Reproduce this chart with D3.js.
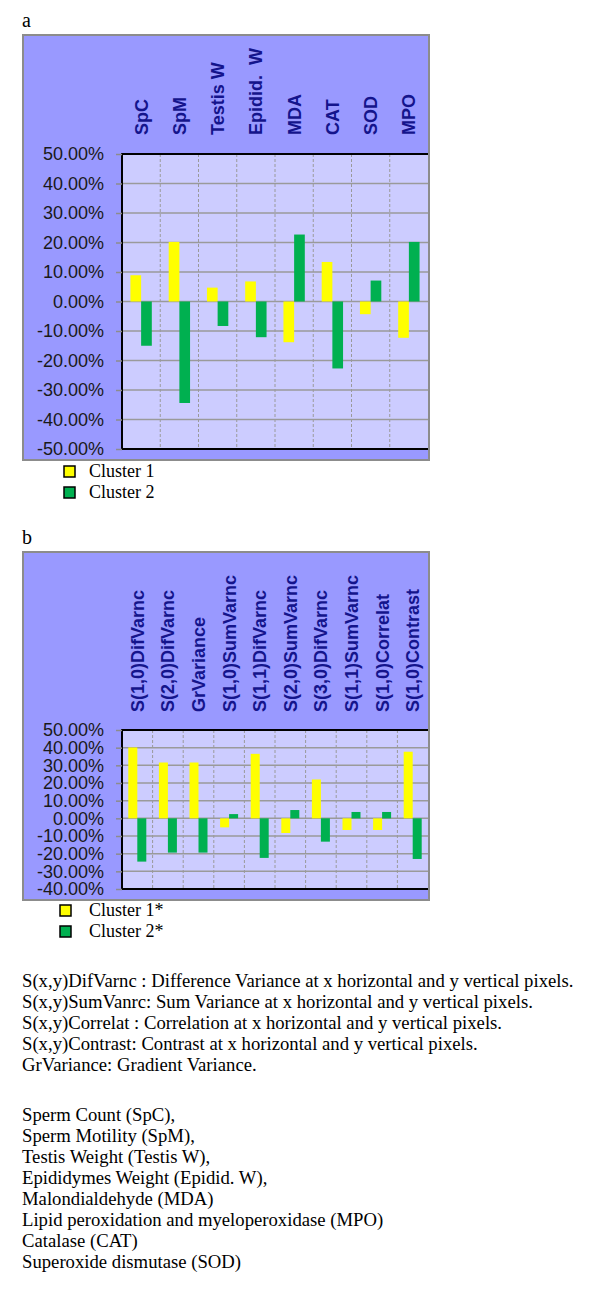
<!DOCTYPE html>
<html>
<head>
<meta charset="utf-8">
<script src="https://cdn.jsdelivr.net/npm/d3@7"></script>
<style>
  body { margin: 0; background: #fff; }
  svg { display: block; }
</style>
</head>
<body>
<svg id="fig" width="600" height="1294"></svg>
<script>
// panel a
const catsA = ['SpC', 'SpM', 'Testis W', 'Epidid.  W', 'MDA', 'CAT', 'SOD', 'MPO'];
const cluster1A = [0.089, 0.202, 0.047, 0.068, -0.138, 0.134, -0.043, -0.123];
const cluster2A = [-0.150, -0.344, -0.083, -0.121, 0.227, -0.227, 0.071, 0.202];
const ticksA = [0.5, 0.4, 0.3, 0.2, 0.1, 0, -0.1, -0.2, -0.3, -0.4, -0.5];
const legendA = ['Cluster 1', 'Cluster 2'];

// panel b
const catsB = ['S(1,0)DifVarnc', 'S(2,0)DifVarnc', 'GrVariance', 'S(1,0)SumVarnc', 'S(1,1)DifVarnc',
  'S(2,0)SumVarnc', 'S(3,0)DifVarnc', 'S(1,1)SumVarnc', 'S(1,0)Correlat', 'S(1,0)Contrast'];
const cluster1B = [0.401, 0.316, 0.316, -0.051, 0.365, -0.083, 0.220, -0.066, -0.066, 0.377];
const cluster2B = [-0.245, -0.194, -0.194, 0.024, -0.224, 0.047, -0.132, 0.036, 0.036, -0.230];
const ticksB = [0.5, 0.4, 0.3, 0.2, 0.1, 0, -0.1, -0.2, -0.3, -0.4];
const legendB = ['Cluster 1*', 'Cluster 2*'];

const notes1 = [
  'S(x,y)DifVarnc : Difference Variance at x horizontal and y vertical pixels.',
  'S(x,y)SumVanrc: Sum Variance at x horizontal and y vertical pixels.',
  'S(x,y)Correlat : Correlation at x horizontal and y vertical pixels.',
  'S(x,y)Contrast: Contrast at x horizontal and y vertical pixels.',
  'GrVariance: Gradient Variance.'
];
const notes2 = [
  'Sperm Count (SpC),',
  'Sperm Motility (SpM),',
  'Testis Weight (Testis W),',
  'Epididymes Weight (Epidid. W),',
  'Malondialdehyde (MDA)',
  'Lipid peroxidation and myeloperoxidase (MPO)',
  'Catalase (CAT)',
  'Superoxide dismutase (SOD)'
];

const colors = ['#ffff00', '#00b050'];
const svg = d3.select('#fig');
// plain hyphen for negatives, like the original
const pct = d3.formatLocale({ decimal: '.', thousands: ',', grouping: [3], currency: ['', ''], minus: '-' }).format('.2%');

function drawPanel(p) {
  const g = svg.append('g');

  g.append('text')
    .attr('x', 22).attr('y', p.letterY)
    .attr('font-family', 'Liberation Serif, Times New Roman, serif')
    .attr('font-size', 20)
    .text(p.letter);

  // outer chart area
  g.append('rect')
    .attr('x', p.frame.x).attr('y', p.frame.y)
    .attr('width', p.frame.w).attr('height', p.frame.h)
    .attr('fill', '#9999ff')
    .attr('stroke', '#8c8c8c').attr('stroke-width', 2);

  const x = d3.scaleBand().domain(p.cats).range([p.x0, p.x1]);
  const xs = d3.scaleBand().domain([0, 1]).range([0, x.bandwidth()]).paddingOuter(p.outer);
  const y = d3.scaleLinear().domain(p.domain).range([p.y1, p.y0]);

  g.append('rect')
    .attr('x', p.x0).attr('y', p.y0)
    .attr('width', p.x1 - p.x0).attr('height', p.y1 - p.y0)
    .attr('fill', '#ccccff');

  // horizontal grid
  g.selectAll('.hg').data(p.ticks).enter().append('line')
    .attr('x1', p.x0).attr('x2', p.x1)
    .attr('y1', d => y(d)).attr('y2', d => y(d))
    .attr('stroke', '#9a9a9a').attr('stroke-width', 1.5);

  // vertical dashed grid
  g.selectAll('.vg').data(p.cats.slice(1)).enter().append('line')
    .attr('x1', d => x(d)).attr('x2', d => x(d))
    .attr('y1', p.y0).attr('y2', p.y1)
    .attr('stroke', '#9a9a9a').attr('stroke-width', 1)
    .attr('stroke-dasharray', '3,2');

  // bars
  [p.s1, p.s2].forEach((vals, si) => {
    g.selectAll('.bar' + si).data(vals).enter().append('rect')
      .attr('x', (d, i) => x(p.cats[i]) + xs(si))
      .attr('width', xs.bandwidth())
      .attr('y', d => y(Math.max(0, d)))
      .attr('height', d => Math.abs(y(d) - y(0)))
      .attr('fill', colors[si]);
  });

  // plot border (top, left, bottom)
  g.append('path')
    .attr('d', `M${p.x1},${p.y0}H${p.x0}V${p.y1}H${p.x1}`)
    .attr('fill', 'none').attr('stroke', '#000').attr('stroke-width', 2);

  const axis = d3.axisLeft(y).tickValues(p.ticks)
    .tickFormat(pct).tickSize(6).tickPadding(12);
  const ag = g.append('g').attr('transform', `translate(${p.x0},0)`).call(axis);
  ag.select('.domain').remove();
  ag.selectAll('.tick line').attr('stroke', '#8c8c8c').attr('stroke-width', 1.5);
  ag.selectAll('.tick text')
    .attr('font-family', 'Liberation Sans, Arial, sans-serif')
    .attr('font-size', 18).attr('fill', '#1a1a1a');

  // category labels, rotated
  g.selectAll('.cl').data(p.cats).enter().append('text')
    .attr('transform', d => `translate(${x(d) + x.bandwidth() / 2},${p.labelY}) rotate(-90)`)
    .attr('dy', '0.36em')
    .attr('font-family', 'Liberation Sans, Arial, sans-serif')
    .attr('font-weight', 'bold').attr('font-size', 18)
    .attr('fill', '#14148c')
    .style('white-space', 'pre')
    .text(d => d);

  // legend
  p.legend.forEach((name, i) => {
    const ly = p.legendY + i * 21;
    g.append('rect')
      .attr('x', p.legendX).attr('y', ly)
      .attr('width', 11).attr('height', 11)
      .attr('fill', colors[i]).attr('stroke', '#000').attr('stroke-width', 1.5);
    g.append('text')
      .attr('x', 89).attr('y', ly + 11)
      .attr('font-family', 'Liberation Serif, Times New Roman, serif')
      .attr('font-size', 18)
      .text(name);
  });
}

drawPanel({
  letter: 'a', letterY: 27,
  frame: { x: 23, y: 35, w: 406, h: 425 },
  x0: 122, x1: 428, y0: 154, y1: 449,
  domain: [-0.5, 0.5], ticks: ticksA, outer: 0.79,
  cats: catsA, s1: cluster1A, s2: cluster2A,
  labelY: 135, legend: legendA, legendX: 64, legendY: 466
});

drawPanel({
  letter: 'b', letterY: 544,
  frame: { x: 23, y: 552, w: 406, h: 348 },
  x0: 122, x1: 428, y0: 730, y1: 889,
  domain: [-0.4, 0.5], ticks: ticksB, outer: 0.7,
  cats: catsB, s1: cluster1B, s2: cluster2B,
  labelY: 712, legend: legendB, legendX: 60, legendY: 905
});

// footnotes
svg.selectAll('.n1').data(notes1).enter().append('text')
  .attr('x', 22).attr('y', (d, i) => 987 + i * 21)
  .attr('font-family', 'Liberation Serif, Times New Roman, serif')
  .attr('font-size', 18.7)
  .text(d => d);

svg.selectAll('.n2').data(notes2).enter().append('text')
  .attr('x', 22).attr('y', (d, i) => 1121 + i * 21)
  .attr('font-family', 'Liberation Serif, Times New Roman, serif')
  .attr('font-size', 18.7)
  .text(d => d);
</script>
</body>
</html>
